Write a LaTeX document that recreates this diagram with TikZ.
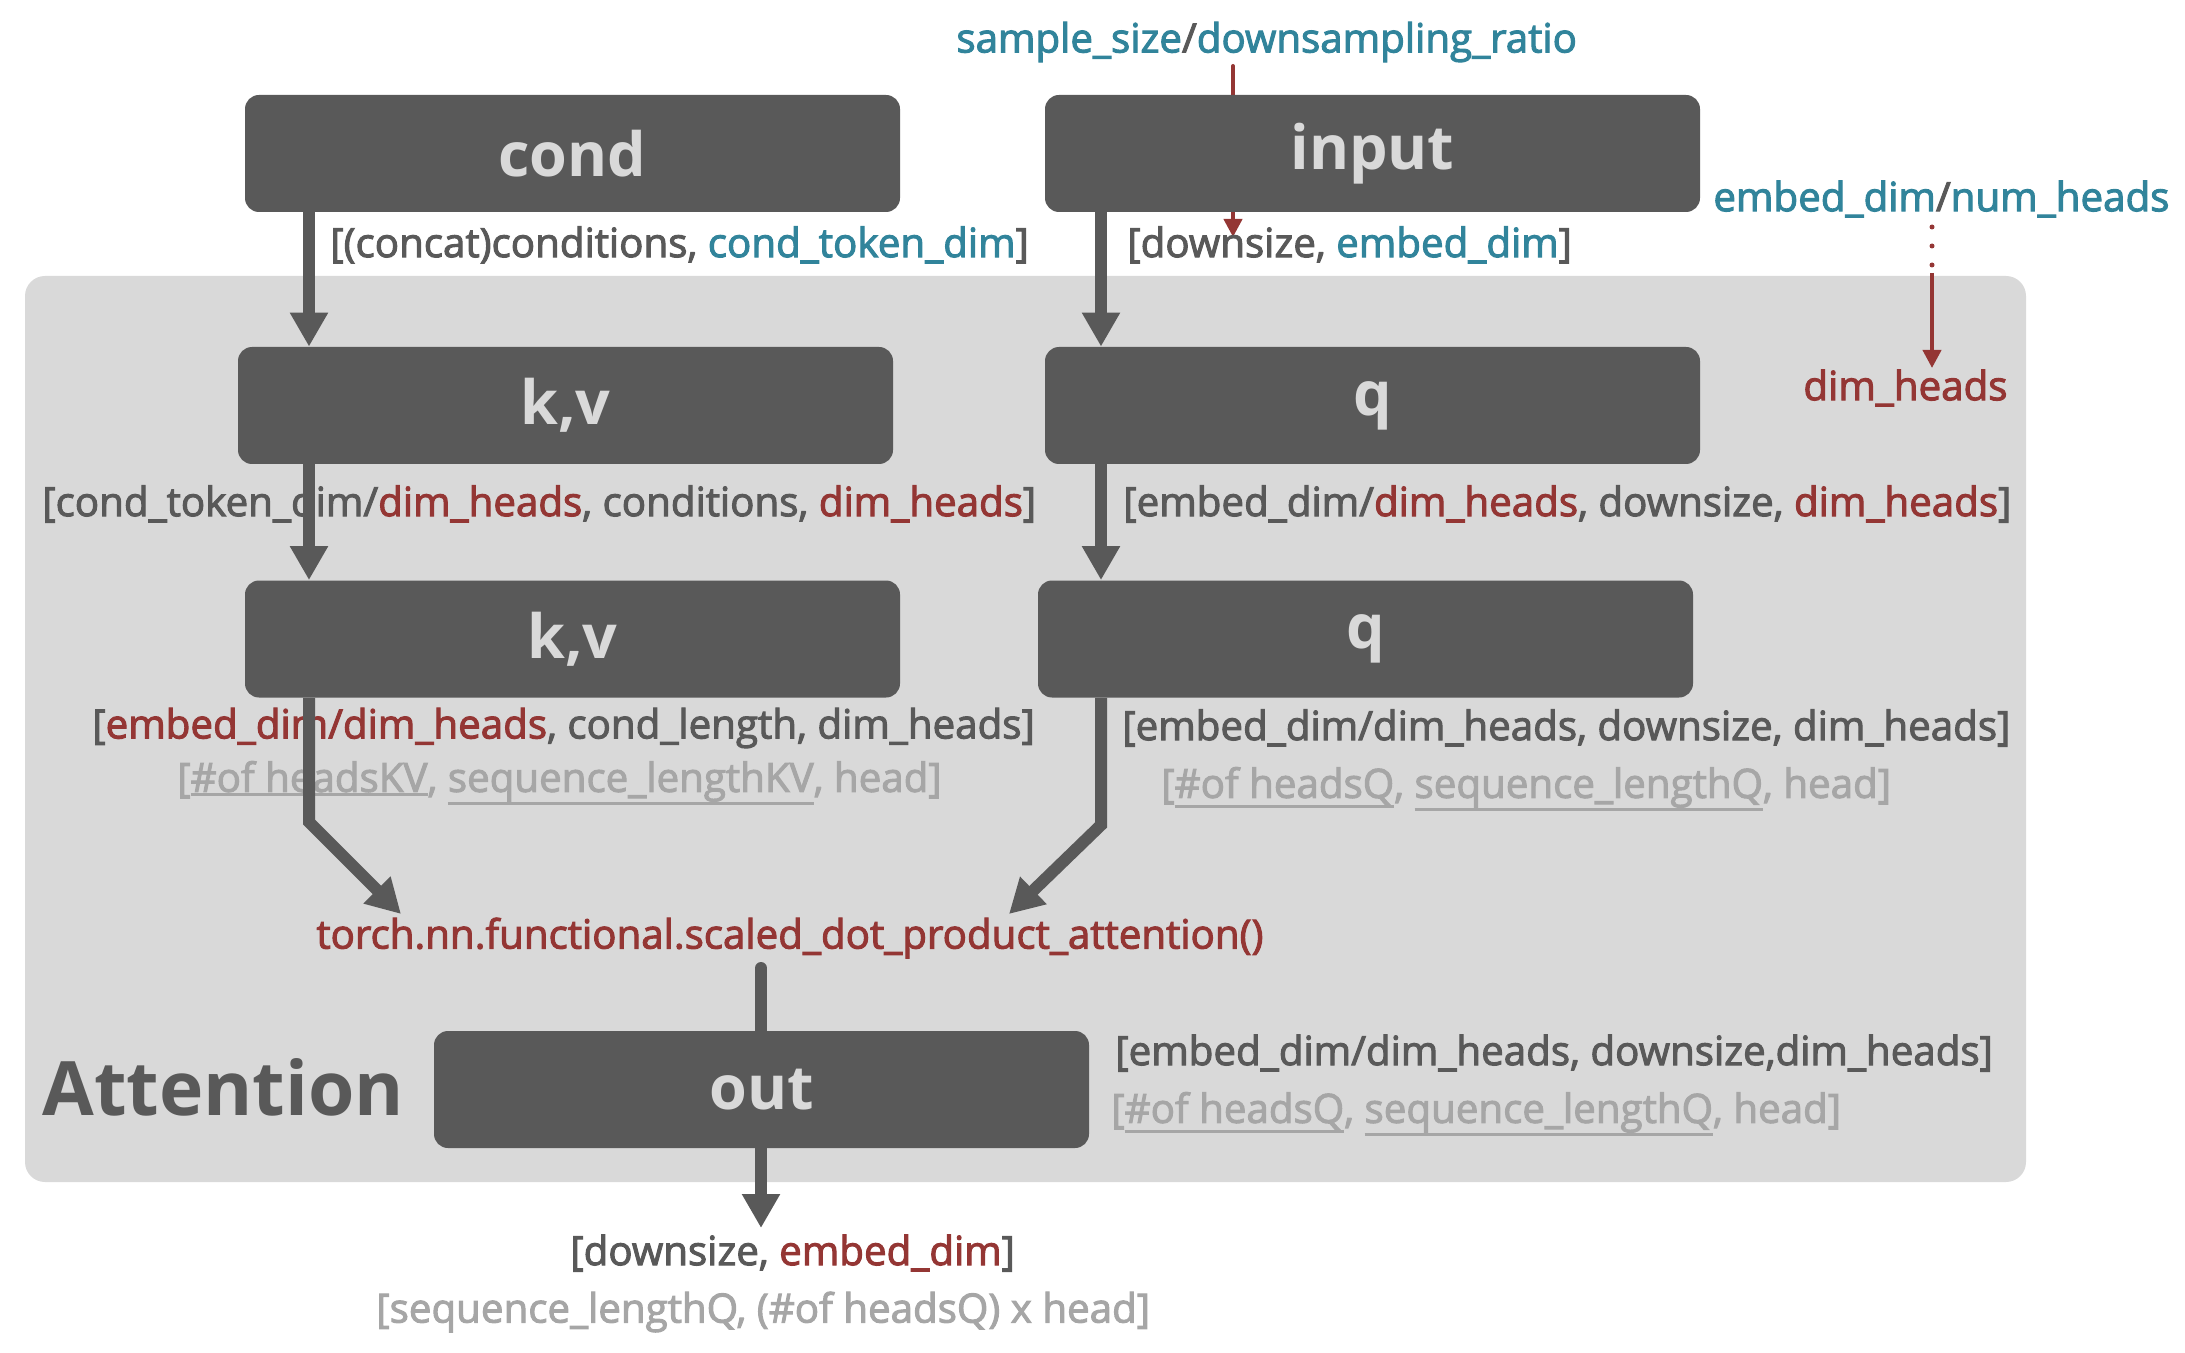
\documentclass[tikz,border=0pt]{standalone}
\usepackage{fontspec}
\setmainfont{Open Sans}
\newfontfamily\labfont{Open Sans}[FakeBold=2.5]
\usetikzlibrary{arrows.meta}
\definecolor{boxg}{HTML}{595959}
\definecolor{bgg}{HTML}{D9D9D9}
\definecolor{cteal}{HTML}{31849B}
\definecolor{cred}{HTML}{943634}
\definecolor{clight}{HTML}{A6A6A6}
\tikzset{
  box/.style={fill=boxg, rounded corners=7pt, minimum width=327.5pt, minimum height=58.5pt,
    inner sep=0pt, text=bgg, font=\bfseries\fontsize{30.5}{36}\selectfont},
  lab/.style={anchor=west, inner sep=0pt, text=boxg, font=\labfont\fontsize{20.15}{24}\selectfont},
  fat/.style={draw=boxg, line width=6pt},
  fatarrow/.style={fat, -{Triangle[width=18pt,length=17pt]}},
  redarrow/.style={draw=cred, line width=2pt, -{Triangle[width=9pt,length=9pt]}},
}
\newcommand{\tl}[1]{{\color{cteal}#1}}
\newcommand{\rd}[1]{{\color{cred}#1}}
\newcommand{\ul}[1]{\vtop{\hbox{#1}\kern0.3pt\hrule height 1.4pt}}
\begin{document}
\begin{tikzpicture}[x=0.5pt,y=-0.5pt]
\path[use as bounding box] (0,0) rectangle (2185,1353);
\fill[bgg, rounded corners=10pt] (25,276) rectangle (2026,1182);

% labels above
\node[lab, text=cteal] (samp) at (956,42) {sample\_size{\color{boxg}/}downsampling\_ratio};
\coordinate (rs) at (1233,66);
\coordinate (re) at (1233,237);
\draw[redarrow, line cap=round] (rs) -- (re);

% boxes
\node[box] (cond) at (572.5,153.5) {cond};
\node[box] (input) at (1372.5,153.5) {input};
\node[box] (kv1) at (565.5,405.5) {k,v};
\node[box] (q1) at (1372.5,405.5) {q};
\node[box] (kv2) at (572.5,639) {k,v};
\node[box] (q2) at (1365.5,639) {q};
\node[box] (out) at (761.5,1089.5) {out};

% labels
\node[lab] (condlab) at (330,245) {[(concat)conditions, \tl{cond\_token\_dim}]};
\node[lab] (inlab) at (1127,245) {[downsize, \tl{embed\_dim}]};
\node[lab, text=cteal] (embnh) at (1713,199) {embed\_dim{\color{boxg}/}num\_heads};
\node[lab, text=cred] (dimh) at (1803,388) {dim\_heads};
\node[lab] (kv1lab) at (42,504) {[cond\_token\_dim/\rd{dim\_heads}, conditions, \rd{dim\_heads}]};
\node[lab] (q1lab) at (1123,504) {[embed\_dim/\rd{dim\_heads}, downsize, \rd{dim\_heads}]};
\node[lab] (kv2lab) at (92,728) {[\rd{embed\_dim/dim\_heads}, cond\_length, dim\_heads]};
\node[lab, text=clight] (kv2sub) at (177,783) {[\ul{\#of headsKV}, \ul{sequence\_lengthKV}, head]};
\node[lab] (q2lab) at (1122,728) {[embed\_dim/dim\_heads, downsize, dim\_heads]};
\node[lab, text=clight] (q2sub) at (1161,789) {[\ul{\#of headsQ}, \ul{sequence\_lengthQ}, head]};
\node[lab, text=cred] (att) at (316,938) {torch.nn.functional.scaled\_dot\_product\_attention()};
\node[anchor=west, inner sep=0pt, text=boxg, font=\bfseries\fontsize{37.5}{44}\selectfont] (attn) at (42,1087) {Attention};
\node[lab] (outlab) at (1115,1053) {[embed\_dim/dim\_heads, downsize,dim\_heads]};
\node[lab, text=clight] (outsub) at (1111,1114) {[\ul{\#of headsQ}, \ul{sequence\_lengthQ}, head]};
\node[lab] (fin) at (570,1253) {[downsize, \rd{embed\_dim}]};
\node[lab, text=clight] (finsub) at (376,1312) {[sequence\_lengthQ, (\#of headsQ) x head]};

% dim_heads arrow
\draw[cred, line width=2.5pt, line cap=round, dash pattern=on 0pt off 9.5pt] (1932,227) -- (1932,266);
\draw[redarrow] (1932,273) -- (1932,368);

% thick connectors
\coordinate (xl) at (309,0);
\coordinate (xr) at (1101,0);
\coordinate (xo) at (761,0);
\coordinate (b1) at (309,822);
\coordinate (t1) at (401,914);
\coordinate (b2) at (1101,825);
\coordinate (t2) at (1009,914);
\coordinate (os) at (761,968);
\coordinate (oe) at (761,1228);
\draw[fatarrow] (cond.south -| xl) -- (kv1.north -| xl);
\draw[fatarrow] (input.south -| xr) -- (q1.north -| xr);
\draw[fatarrow] (kv1.south -| xl) -- (kv2.north -| xl);
\draw[fatarrow] (q1.south -| xr) -- (q2.north -| xr);
\draw[fatarrow] (kv2.south -| xl) -- (b1) -- (t1);
\draw[fatarrow] (q2.south -| xr) -- (b2) -- (t2);
\draw[fat, line cap=round] (os) -- (out.north -| xo);
\draw[fatarrow] (out.south -| xo) -- (oe);
\end{tikzpicture}
\end{document}
